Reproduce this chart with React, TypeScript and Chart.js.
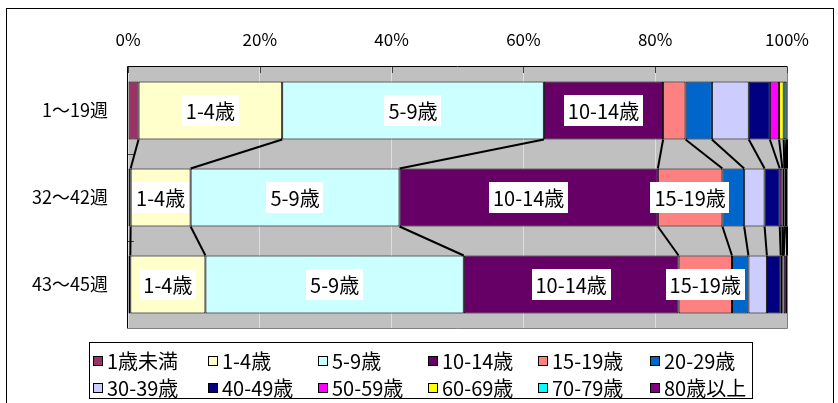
import React, { useEffect, useRef } from "react";
import { Chart, registerables } from "chart.js";

Chart.register(...registerables);

const FONT = '"Noto Sans CJK JP", "Noto Sans", sans-serif';

// ---- data ----
const weekGroups = ["1〜19週", "32〜42週", "43〜45週"];
const ageGroups = [
  "1歳未満", "1-4歳", "5-9歳", "10-14歳", "15-19歳", "20-29歳",
  "30-39歳", "40-49歳", "50-59歳", "60-69歳", "70-79歳", "80歳以上",
];
const ageColors = [
  "#993366", "#FFFFCC", "#CCFFFF", "#660066", "#FF8080", "#0066CC",
  "#CCCCFF", "#000080", "#FF00FF", "#FFFF00", "#00FFFF", "#800080",
];
const week1to19 = [1.6, 21.8, 39.7, 18.1, 3.4, 4.0, 5.6, 3.2, 1.4, 0.7, 0.4, 0.1];
const week32to42 = [0.4, 9.1, 31.7, 39.2, 9.8, 3.3, 3.1, 2.3, 0.4, 0.3, 0.1, 0.3];
const week43to45 = [0.35, 11.4, 39.2, 32.6, 8.1, 2.5, 2.8, 2.1, 0.3, 0.1, 0.05, 0.5];
const xTickValues = [0, 20, 40, 60, 80, 100];
const labelThreshold = 8; // segments at least this large get a name label

const seriesByWeek = [week1to19, week32to42, week43to45];

const decorPlugin = {
  id: "excelDecor",
  beforeDraw(chart: any) {
    const { ctx, chartArea: a } = chart;
    ctx.save();
    ctx.fillStyle = "#C0C0C0";
    ctx.fillRect(a.left, a.top, a.right - a.left, a.bottom - a.top);
    ctx.restore();
  },
  beforeDatasetsDraw(chart: any) {
    const { ctx, chartArea: a, scales } = chart;
    ctx.save();
    // plot border
    ctx.lineWidth = 1;
    ctx.strokeStyle = "#808080";
    ctx.beginPath();
    ctx.moveTo(a.right + 0.5, a.top);
    ctx.lineTo(a.right + 0.5, a.bottom + 0.5);
    ctx.lineTo(a.left, a.bottom + 0.5);
    ctx.stroke();
    ctx.strokeStyle = "#000000";
    ctx.beginPath();
    ctx.moveTo(a.left - 0.5, a.bottom + 0.5);
    ctx.lineTo(a.left - 0.5, a.top - 0.5);
    ctx.lineTo(a.right + 0.5, a.top - 0.5);
    ctx.stroke();
    // inside tick marks on x (top) axis
    ctx.strokeStyle = "#404040";
    xTickValues.forEach((v) => {
      const px = Math.round(scales.x.getPixelForValue(v)) + 0.5;
      ctx.beginPath();
      ctx.moveTo(px, a.top);
      ctx.lineTo(px, a.top + 6);
      ctx.stroke();
    });
    // inside tick marks on y axis at category boundaries
    for (let i = 0; i < weekGroups.length - 1; i++) {
      const py = Math.round((scales.y.getPixelForValue(i) + scales.y.getPixelForValue(i + 1)) / 2) + 0.5;
      ctx.beginPath();
      ctx.moveTo(a.left, py);
      ctx.lineTo(a.left + 6, py);
      ctx.stroke();
    }
    ctx.restore();
  },
  afterDatasetsDraw(chart: any) {
    const { ctx } = chart;
    ctx.save();
    // series lines
    ctx.strokeStyle = "#000000";
    ctx.lineWidth = 2;
    chart.data.datasets.forEach((_: any, d: number) => {
      const meta = chart.getDatasetMeta(d);
      for (let i = 0; i < meta.data.length - 1; i++) {
        const e0 = meta.data[i].getProps(["x", "y", "height"], true);
        const e1 = meta.data[i + 1].getProps(["x", "y", "height"], true);
        ctx.beginPath();
        ctx.moveTo(e0.x, e0.y + e0.height / 2);
        ctx.lineTo(e1.x, e1.y - e1.height / 2);
        ctx.stroke();
      }
    });
    // segment name labels
    ctx.font = `20px ${FONT}`;
    ctx.textAlign = "center";
    ctx.textBaseline = "middle";
    chart.data.datasets.forEach((ds: any, d: number) => {
      const meta = chart.getDatasetMeta(d);
      ds.data.forEach((v: number, i: number) => {
        if (v < labelThreshold) return;
        const el = meta.data[i].getProps(["x", "y", "base"], true);
        const cx = (el.x + el.base) / 2;
        const cy = el.y;
        const text = ds.label;
        const w = ctx.measureText(text).width + 8;
        const h = 31;
        ctx.fillStyle = "#FFFFFF";
        ctx.fillRect(Math.round(cx - w / 2), Math.round(cy - h / 2), Math.round(w), h);
        ctx.fillStyle = "#000000";
        ctx.fillText(text, cx, cy + 1);
      });
    });
    ctx.restore();
  },
};

function ChartCanvas() {
  const ref = useRef<HTMLCanvasElement | null>(null);
  useEffect(() => {
    if (!ref.current) return;
    const datasets = ageGroups.map((name, k) => ({
      label: name,
      data: seriesByWeek.map((arr) => arr[k]),
      backgroundColor: ageColors[k],
      borderColor: "#000000",
      borderWidth: 1,
      borderSkipped: false,
      barPercentage: 0.667,
      categoryPercentage: 1.0,
    }));
    const chart = new Chart(ref.current, {
      type: "bar",
      data: { labels: weekGroups, datasets },
      options: {
        indexAxis: "y",
        animation: false,
        responsive: false,
        devicePixelRatio: 1,
        layout: { padding: { left: 0, top: 0, right: 51, bottom: 75 } },
        plugins: { legend: { display: false }, tooltip: { enabled: false } },
        scales: {
          x: {
            position: "top",
            stacked: true,
            min: 0,
            max: 100,
            afterBuildTicks(scale: any) {
              scale.ticks = xTickValues.map((v) => ({ value: v }));
            },
            afterFit(scale: any) {
              scale.height = 67;
            },
            grid: { color: "#DDDDDD", lineWidth: 1, drawTicks: false },
            border: { display: false },
            ticks: {
              padding: 17,
              color: "#000000",
              font: { family: FONT, size: 17 },
              callback: (v: any) => `${v}%`,
            },
          },
          y: {
            stacked: true,
            afterFit(scale: any) {
              scale.width = 128;
            },
            grid: { display: false, drawTicks: false },
            border: { display: false },
            ticks: {
              padding: 20,
              color: "#000000",
              font: { family: FONT, size: 18 },
            },
          },
        },
      },
      plugins: [decorPlugin],
    } as any);
    return () => chart.destroy();
  }, []);
  return (
    <canvas
      ref={ref}
      width={838}
      height={403}
      style={{ position: "absolute", left: 0, top: 0, width: 838, height: 403 }}
    />
  );
}

function Legend() {
  return (
    <div
      style={{
        position: "absolute",
        left: 89,
        top: 342,
        width: 664,
        height: 57,
        border: "1px solid #000",
        background: "#fff",
        boxSizing: "content-box",
        display: "grid",
        gridTemplateColumns: "115px 110px 110px 110px 112px auto",
        gridAutoRows: "27px",
        paddingLeft: 3,
        paddingTop: 4,
        boxSizing: "border-box",
        fontFamily: FONT,
        fontSize: 20,
        lineHeight: "27px",
        color: "#000",
      } as any}
    >
      {ageGroups.map((name, k) => (
        <div key={name} style={{ display: "flex", alignItems: "center", whiteSpace: "nowrap" }}>
          <span
            style={{
              display: "inline-block",
              width: 8,
              height: 8,
              border: "1px solid #000",
              background: ageColors[k],
              marginRight: 4,
              flex: "none",
            }}
          />
          <span>{name}</span>
        </div>
      ))}
    </div>
  );
}

export default function App() {
  return (
    <div
      style={{
        position: "absolute",
        left: 0,
        top: 0,
        width: 838,
        height: 403,
        overflow: "hidden",
        background: "#fff",
      }}
    >
      <div
        style={{
          position: "absolute",
          left: 6,
          top: 8,
          width: 826,
          height: 420,
          border: "1px solid #000",
        }}
      />
      <ChartCanvas />
      <Legend />
    </div>
  );
}
